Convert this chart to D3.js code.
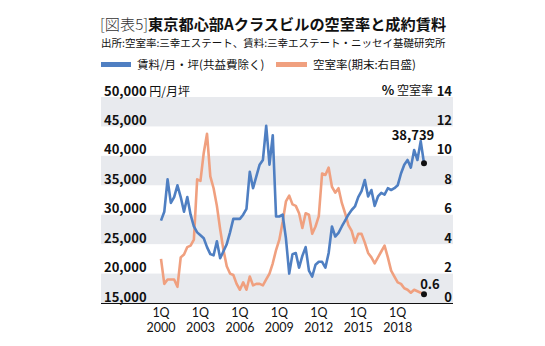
<!DOCTYPE html>
<html>
<head>
<meta charset="utf-8">
<script src="https://cdn.jsdelivr.net/npm/d3@7"></script>
<style>
  body { margin: 0; background: #fff; }
  svg text { font-family: "Noto Sans CJK JP", "Noto Sans", sans-serif; fill: #111; }
  svg text.xlab { font-family: Lato, "Noto Sans", sans-serif; }
</style>
</head>
<body>
<div id="chart"></div>
<script>
// data: quarterly, 1Q2000 .. 1Q2020
const rent = [
  29000, 30500, 36000, 32000, 33000, 35000, 33000, 30500, 33000, 30000,
  28000, 27000, 26500, 26000, 24500, 23300, 23100, 25500, 22600, 23800,
  25000, 27000, 29300, 29300, 29300, 30000, 31000, 37300, 34500, 36500,
  38500, 39300, 45100, 38500, 43500, 29700, 29700, 30000, 26000, 20000,
  23300, 23500, 21000, 23000, 24500, 20500, 19500, 21500, 22000, 22000,
  21000, 23500, 28000, 26300, 26900, 28000, 29000, 30000, 30800, 31400,
  33000, 34000, 35900, 33100, 34200, 31500, 33100, 33700, 33400, 34500,
  34200, 34500, 35000, 37000, 38500, 39300, 38000, 41000, 39300, 42500,
  38739
];
const vacancy = [
  3.0, 1.3, 1.6, 1.6, 1.6, 1.1, 3.1, 3.3, 3.8, 3.9,
  4.3, 8.4, 8.3, 10.2, 11.5, 8.6, 7.8, 6.6, 5.0, 3.6,
  2.5, 2.0, 1.9, 1.3, 0.9, 1.4, 0.9, 1.8, 1.2, 1.3,
  1.3, 1.2, 1.6, 2.0, 2.7, 3.6, 4.3, 5.5, 6.9, 7.3,
  6.7, 6.6, 6.1, 5.1, 6.1, 6.0, 4.7, 5.2, 5.9, 8.8,
  8.7, 9.2, 7.9, 7.5, 7.8, 6.8, 6.1, 5.3, 4.9, 4.1,
  4.7, 4.7, 4.1, 3.4, 3.1, 2.7, 3.1, 3.5, 3.9, 3.1,
  2.2, 1.8, 1.4, 1.3, 1.0, 0.9, 0.7, 0.9, 0.8, 0.7,
  0.6
];
const xTickIdx = [0, 12, 24, 36, 48, 60, 72];
const xTickYears = ['2000', '2003', '2006', '2009', '2012', '2015', '2018'];
const rentTicks = [15000, 20000, 25000, 30000, 35000, 40000, 45000, 50000];
const vacTicks = [0, 2, 4, 6, 8, 10, 12, 14];

const svgWidth = 545, svgHeight = 346;
const plotLeft = 101, plotRight = 453, plotTop = 97, plotBottom = 303;

const svg = d3.select('#chart').append('svg')
  .attr('width', svgWidth).attr('height', svgHeight);

const x = d3.scaleLinear().domain([0, rent.length - 1]).range([161, 424]);
const yL = d3.scaleLinear().domain([15000, 50000]).range([plotBottom, plotTop]);
const yR = d3.scaleLinear().domain([0, 14]).range([plotBottom, plotTop]);

// title block
const title = svg.append('text').attr('x', 100).attr('y', 30).attr('font-size', 15.2);
title.append('tspan').attr('font-weight', 300).attr('fill', '#333').text('[図表5]');
title.append('tspan').attr('font-weight', 700).text('東京都心部Aクラスビルの空室率と成約賃料');

svg.append('text').attr('x', 101).attr('y', 47).attr('font-size', 10.5)
  .attr('fill', '#222')
  .text('出所:空室率:三幸エステート、賃料:三幸エステート・ニッセイ基礎研究所');

// legend
svg.append('rect').attr('x', 101).attr('y', 62).attr('width', 30).attr('height', 5).attr('fill', '#4f7fc2');
svg.append('text').attr('x', 137).attr('y', 69).attr('font-size', 11.5).text('賃料/月・坪(共益費除く)');
svg.append('rect').attr('x', 276).attr('y', 62).attr('width', 31).attr('height', 5).attr('fill', '#f0a07f');
svg.append('text').attr('x', 313).attr('y', 69).attr('font-size', 11.5).text('空室率(期末:右目盛)');

// alternating bands
const bands = rentTicks.slice(0, -1).filter((d, i) => i % 2 === 0);
svg.append('g').selectAll('rect').data(bands).enter().append('rect')
  .attr('x', plotLeft).attr('width', plotRight - plotLeft)
  .attr('y', d => yL(d + 5000)).attr('height', d => yL(d) - yL(d + 5000))
  .attr('fill', '#e8eaee');

// left axis (labels sit on their lines)
const leftAxis = svg.append('g').attr('transform', 'translate(104,0)')
  .call(d3.axisRight(yL).tickValues(rentTicks).tickSize(0).tickPadding(0).tickFormat(d3.format(',')));
leftAxis.select('.domain').remove();
leftAxis.attr('font-family', null);
leftAxis.selectAll('text').attr('font-size', 13).attr('font-weight', 700).attr('dy', '-0.15em');
leftAxis.selectAll('.tick').filter(d => d === 50000).select('text')
  .append('tspan').attr('font-weight', 400).attr('font-size', 12).text(' 円/月坪');

// right axis
const rightAxis = svg.append('g').attr('transform', 'translate(452,0)')
  .call(d3.axisLeft(yR).tickValues(vacTicks).tickSize(0).tickPadding(0));
rightAxis.select('.domain').remove();
rightAxis.attr('font-family', null);
rightAxis.selectAll('text').attr('font-size', 13).attr('font-weight', 700).attr('dy', '-0.15em');
svg.append('text').attr('x', 433).attr('y', yR(14) - 2).attr('text-anchor', 'end')
  .attr('font-size', 12)
  .html('<tspan font-weight="700" font-size="13">%</tspan> 空室率');

// bottom axis line + labels
svg.append('line').attr('x1', plotLeft).attr('x2', plotRight).attr('y1', plotBottom + 0.5).attr('y2', plotBottom + 0.5)
  .attr('stroke', '#111').attr('stroke-width', 1.2);
const xg = svg.append('g').selectAll('g').data(xTickIdx).enter().append('g')
  .attr('transform', d => `translate(${x(d)},0)`);
xg.append('text').attr('class', 'xlab').attr('y', 317).attr('text-anchor', 'middle').attr('font-size', 12.5).text('1Q');
xg.append('text').attr('class', 'xlab').attr('y', 332).attr('text-anchor', 'middle').attr('font-size', 12.5).text((d, i) => xTickYears[i]);

// lines
const lineL = d3.line().x((d, i) => x(i)).y(d => yL(d));
const lineR = d3.line().x((d, i) => x(i)).y(d => yR(d));

svg.append('path').datum(vacancy).attr('d', lineR)
  .attr('fill', 'none').attr('stroke', '#f0a07f').attr('stroke-width', 2.6).attr('stroke-linejoin', 'round');
svg.append('path').datum(rent).attr('d', lineL)
  .attr('fill', 'none').attr('stroke', '#4f7fc2').attr('stroke-width', 2.6).attr('stroke-linejoin', 'round');

// end markers
const last = rent.length - 1;
svg.append('circle').attr('cx', x(last)).attr('cy', yL(rent[last])).attr('r', 3).attr('fill', '#111');
svg.append('circle').attr('cx', x(last)).attr('cy', yR(vacancy[last])).attr('r', 3).attr('fill', '#111');
svg.append('text').attr('x', 413).attr('y', 140).attr('text-anchor', 'middle')
  .attr('font-size', 13).attr('font-weight', 700).text(d3.format(',')(rent[last]));
svg.append('text').attr('x', 430).attr('y', 289).attr('text-anchor', 'middle')
  .attr('font-size', 13).attr('font-weight', 700).text(vacancy[last]);
</script>
</body>
</html>
